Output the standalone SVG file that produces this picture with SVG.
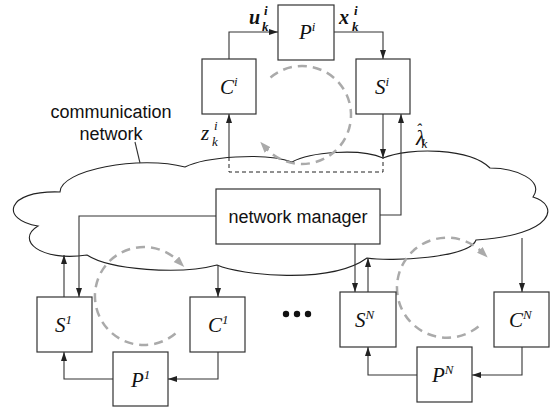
<svg xmlns="http://www.w3.org/2000/svg" width="557" height="416" viewBox="0 0 557 416">
<defs>
<marker id="ah" markerUnits="userSpaceOnUse" markerWidth="10" markerHeight="7" refX="9" refY="3" orient="auto"><path d="M0,0 L9,3 L0,6 z" fill="#222"/></marker>
<marker id="gah" markerUnits="userSpaceOnUse" markerWidth="12" markerHeight="9" refX="3" refY="4" orient="auto"><path d="M0,0 L11,4 L0,8 z" fill="#aaa"/></marker>
</defs>
<style>
.box{fill:#fff;stroke:#333;stroke-width:1.2}
.ln{fill:none;stroke:#333;stroke-width:1.1}
.arr{marker-end:url(#ah)}
.dash{fill:none;stroke:#222;stroke-width:1;stroke-dasharray:4 3}
.loop{fill:none;stroke:#aaa;stroke-width:2.5;stroke-dasharray:9 6;marker-end:url(#gah)}
.sans{font-family:"Liberation Sans",Arial,sans-serif;font-size:18px;fill:#111}
.m{font-family:"Liberation Serif","Times New Roman",serif;font-style:italic;font-size:21px;fill:#111}
.mb{font-family:"Liberation Serif","Times New Roman",serif;font-style:italic;font-weight:bold;font-size:20px;fill:#111}
.s{font-size:13px}
</style>
<g id="cloud">
<path d="M185 167 C205 157,265 152,292 162 C310 152,360 148,383 158 C410 147,470 148,490 168 C515 168,545 180,533 197 C560 205,555 235,476 240 C470 258,390 262,367 258 C330 285,240 275,217 265 C180 275,110 270,87 255 C40 262,15 240,38 226 C0 220,5 190,60 192 C60 170,140 155,185 167 Z" fill="#fff" stroke="#222" stroke-width="1.1"/>
<path d="M135 142 L140 163" class="ln"/>
<text class="sans" x="111" y="118" text-anchor="middle">communication</text>
<text class="sans" x="111" y="140" text-anchor="middle">network</text>
</g>
<g id="loops">
<path class="loop" d="M270.5 77.5 A49 49 0 1 1 265.6 147.8"/>
<path class="loop" d="M175.5 333.5 A49 49 0 1 1 178.6 261.4"/>
<path class="loop" d="M478.5 326.5 A50 50 0 1 1 482 252"/>
</g>
<g id="connectors">
<path class="ln arr" d="M229 59 V32 H278"/>
<path class="ln arr" d="M334 32 H383 V59"/>
<path class="ln arr" d="M229 157 V114"/>
<path class="ln arr" d="M383 114 V158"/>
<path class="ln arr" d="M380 215 H401 V114"/>
<path class="dash" d="M229 157 V172 H383 V158"/>
<path class="ln arr" d="M216 216 H79 V297"/>
<path class="ln arr" d="M64 297 V255"/>
<path class="ln arr" d="M218 265 V297"/>
<path class="ln arr" d="M218 352 V379 H168"/>
<path class="ln arr" d="M113 379 H64 V352"/>
<path class="ln arr" d="M355 244 V292"/>
<path class="ln arr" d="M368 292 V258"/>
<path class="ln arr" d="M522 238 V292"/>
<path class="ln arr" d="M522 347 V375 H472"/>
<path class="ln arr" d="M417 375 H368 V347"/>
</g>
<g id="labels">
<text class="mb" x="249" y="24">u</text>
<text class="mb s" x="264" y="15">i</text>
<text class="mb s" x="262" y="31">k</text>
<text class="mb" x="339" y="24">x</text>
<text class="mb s" x="354" y="15">i</text>
<text class="mb s" x="352" y="31">k</text>
<text class="m" x="201" y="140">z</text>
<text class="m s" x="214" y="130">i</text>
<text class="m s" x="212" y="146">k</text>
<text class="m" x="416" y="145">λ<tspan font-size="16" dx="-9" dy="-10">ˆ</tspan><tspan class="s" dx="0" dy="13">k</tspan></text>
</g>
<g id="Pi"><rect class="box" x="278" y="5" width="56" height="55"/><text class="m" x="299" y="39">P<tspan class="s" dy="-8">i</tspan></text></g>
<g id="Ci"><rect class="box" x="202" y="59" width="54" height="55"/><text class="m" x="220" y="94">C<tspan class="s" dy="-8">i</tspan></text></g>
<g id="Si"><rect class="box" x="356" y="59" width="54" height="55"/><text class="m" x="375" y="94">S<tspan class="s" dy="-8">i</tspan></text></g>
<g id="manager"><rect class="box" x="216" y="189" width="164" height="55"/><text class="sans" x="298" y="223" text-anchor="middle">network manager</text></g>
<g id="S1"><rect class="box" x="37" y="297" width="55" height="55"/><text class="m" x="55" y="332">S<tspan class="s" dy="-8">1</tspan></text></g>
<g id="C1"><rect class="box" x="190" y="297" width="55" height="55"/><text class="m" x="208" y="332">C<tspan class="s" dy="-8">1</tspan></text></g>
<g id="P1"><rect class="box" x="113" y="352" width="55" height="54"/><text class="m" x="131" y="387">P<tspan class="s" dy="-8">1</tspan></text></g>
<g id="SN"><rect class="box" x="340" y="292" width="56" height="55"/><text class="m" x="355" y="327">S<tspan class="s" dy="-8">N</tspan></text></g>
<g id="CN"><rect class="box" x="494" y="292" width="55" height="55"/><text class="m" x="509" y="327">C<tspan class="s" dy="-8">N</tspan></text></g>
<g id="PN"><rect class="box" x="417" y="347" width="55" height="55"/><text class="m" x="432" y="382">P<tspan class="s" dy="-8">N</tspan></text></g>
<g id="dots" fill="#111"><circle cx="286" cy="314" r="3.2"/><circle cx="297" cy="314" r="3.2"/><circle cx="308" cy="314" r="3.2"/></g>
</svg>
